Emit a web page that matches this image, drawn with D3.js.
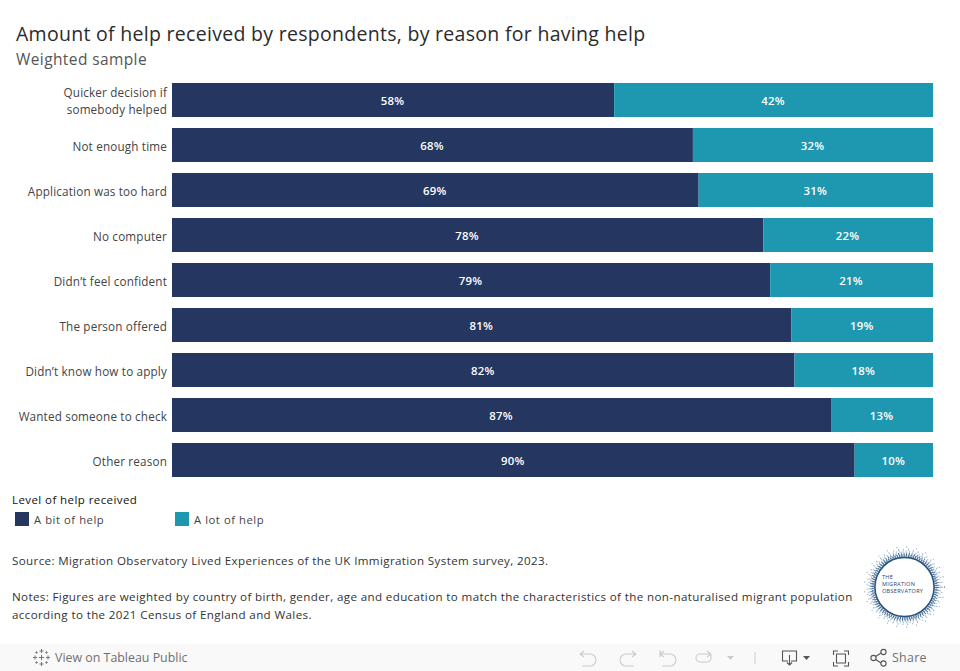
<!DOCTYPE html>
<html><head><meta charset="utf-8">
<script src="https://cdn.jsdelivr.net/npm/d3@7"></script>
<style>
html,body{margin:0;padding:0;background:#fff;overflow:hidden}
svg{display:block}
text{font-family:"Open Sans","Noto Sans",sans-serif}
</style></head><body>
<script>
const categories=[["Quicker decision if","somebody helped"],["Not enough time"],["Application was too hard"],["No computer"],["Didn’t feel confident"],["The person offered"],["Didn’t know how to apply"],["Wanted someone to check"],["Other reason"]];
const bitOfHelp=[58.1,68.45,69.2,77.7,78.6,81.4,81.8,86.6,89.7];
const lotOfHelp=[41.9,31.55,30.8,22.3,21.4,18.6,18.2,13.4,10.3];
const seriesNames=["A bit of help","A lot of help"];
const seriesColors=["#253761","#1e98b0"];
const notes=["Source: Migration Observatory Lived Experiences of the UK Immigration System survey, 2023.","Notes: Figures are weighted by country of birth, gender, age and education to match the characteristics of the non-naturalised migrant population","according to the 2021 Census of England and Wales."];
const logoLines=["THE","MIGRATION","OBSERVATORY"];

const svg=d3.select("body").append("svg").attr("width",960).attr("height",671);
const x=d3.scaleLinear().domain([0,100]).range([172,933]);
const y=d3.scaleBand().domain(d3.range(categories.length)).range([83,477]).paddingInner(11/45).paddingOuter(0);

const txt=(s,px,py,size,fill,opts={})=>svg.append("text").attr("x",px).attr("y",py).attr("font-size",size).attr("fill",fill)
  .attr("text-anchor",opts.anchor||"start").attr("font-weight",opts.weight||400).attr("letter-spacing",opts.ls||0).attr("font-family",opts.font||null).text(s);

txt("Amount of help received by respondents, by reason for having help",16,41,19.5,"#2b2b2b",{weight:500,ls:0.29});
txt("Weighted sample",16,65,15.5,"#555",{ls:0.4});

categories.forEach((lines,i)=>{
  const c=y(i)+y.bandwidth()/2;
  lines.forEach((l,k)=>txt(l,167,c+5.5+(k-(lines.length-1)/2)*17.5,11.7,"#444",{anchor:"end",ls:0.17}));
});

const rows=svg.append("g").selectAll("g").data(d3.range(categories.length)).join("g");
rows.append("rect").attr("x",x(0)).attr("y",i=>y(i)).attr("height",y.bandwidth()).attr("width",i=>x(bitOfHelp[i])-x(0)).attr("fill",seriesColors[0]);
rows.append("rect").attr("x",i=>x(bitOfHelp[i])).attr("y",i=>y(i)).attr("height",y.bandwidth()).attr("width",i=>x(100)-x(bitOfHelp[i])).attr("fill",seriesColors[1]);
const pct=d3.format(".0f");
const lbl=(fn,val)=>rows.append("text").attr("x",fn).attr("y",i=>y(i)+y.bandwidth()/2+5).attr("text-anchor","middle").attr("font-size",11.4).attr("font-weight",600).attr("letter-spacing",0.25).attr("fill","#fff").text(i=>pct(val[i])+"%");
lbl(i=>x(bitOfHelp[i]/2)-0.5,bitOfHelp);
lbl(i=>x(bitOfHelp[i]+lotOfHelp[i]/2)-0.5,lotOfHelp);

txt("Level of help received",12,504,11.5,"#111",{weight:500,ls:0.42});
const legendX=d3.scaleOrdinal().domain(seriesNames).range([15,175]);
seriesNames.forEach((n,i)=>{
  svg.append("rect").attr("x",legendX(n)).attr("y",512).attr("width",14).attr("height",14).attr("fill",seriesColors[i]);
  txt(n,legendX(n)+19,524,11.2,"#444",{ls:0.58});
});
txt(notes[0],12,565,11.6,"#333",{ls:0.37});
txt(notes[1],12,601,11.6,"#333",{ls:0.37});
txt(notes[2],12,619,11.6,"#333",{ls:0.37});

// logo
const logo=svg.append("g").attr("transform","translate(904.5,587)");
const ring=(r,w,col,dash,op)=>logo.append("circle").attr("r",r).attr("fill","none").attr("stroke",col).attr("stroke-width",w).attr("stroke-dasharray",dash).attr("opacity",op);
ring(29.6,1.6,"#1d4a78","none",.95);
ring(31.5,2.5,"#2f6491","1.4 0.9",.85);
ring(33.5,2.2,"#1f4468","1 1.7",.7);
ring(35.5,2.2,"#6f9cc0","1 2.3",.6);
ring(37.5,1.6,"#4a7ca6","0.9 4.1",.6);
ring(40,1,"#27496d","1 9",.6);
logoLines.forEach((s,i)=>{
  logo.append("text").attr("x",-22.5).attr("y",[-8,-1,6][i]).attr("font-size",5.6).attr("letter-spacing",0.25).attr("fill","#27456f").text(s);
});

// toolbar
const bar=svg.append("g");
bar.append("rect").attr("x",0).attr("y",644).attr("width",960).attr("height",27).attr("fill","#f9f9f9");
const snowArms=[[0,-6.5,2],[0,6.5,2],[-6.5,0,2],[6.5,0,2],[0,0,2.6],[-5,-5,1.2],[5,-5,1.2],[-5,5,1.2],[5,5,1.2]];
const snow=bar.append("g").attr("transform","translate(41.5,657.5)").attr("stroke","#777").attr("stroke-width",1);
snowArms.forEach(([a,b,s])=>{
  snow.append("path").attr("d",`M${a-s} ${b}H${a+s}M${a} ${b-s}V${b+s}`);
});
const toolFont="Roboto";
txt("View on Tableau Public",55,662,12.4,"#707070",{weight:500,font:toolFont});
txt("Share",892,662,12.4,"#707070",{weight:500,font:toolFont,ls:0.3});
const gray=bar.append("g").attr("fill","none").attr("stroke","#ccc").attr("stroke-width",1.1);
gray.append("path").attr("d","M580 654H590A6 6 0 0 1 590 666H582M580 654l4-3M580 654l4 3");
gray.append("path").attr("d","M636 654H626A6 6 0 0 0 626 666H634M636 654l-4-3M636 654l-4 3");
gray.append("path").attr("d","M660 650V657M660 654H670A6 6 0 0 1 670 666H662M660 654l4-3M660 654l4 3");
gray.append("path").attr("d","M711 654H700A4 4 0 0 0 700 662H707A4 4 0 0 0 711 658V654M711 654l-4-3M711 654l-4 3");
bar.append("path").attr("d","M727 656h7l-3.5 4z").attr("fill","#ccc");
bar.append("line").attr("x1",755).attr("x2",755).attr("y1",652).attr("y2",664).attr("stroke","#ccc");
const dark=bar.append("g").attr("fill","none").attr("stroke","#555").attr("stroke-width",1.1);
dark.append("path").attr("d","M788 661H782.5V651H796.5V661H791M789.5 655V665M787 662.5l2.5 2.5 2.5-2.5");
bar.append("path").attr("d","M803 656h7l-3.5 4z").attr("fill","#555");
dark.append("path").attr("d","M833.5 655V651H838M844 651H848.5V655M833.5 662V666H838M844 666H848.5V662M836.5 654H845.5V663H836.5Z");
dark.append("path").attr("d","M875 657L881 653M875 659L881 663");
[[873.5,658],[883.5,652],[883.5,663.5]].forEach(([a,b])=>dark.append("circle").attr("cx",a).attr("cy",b).attr("r",2.6).attr("fill","#f9f9f9"));
</script>
</body></html>
